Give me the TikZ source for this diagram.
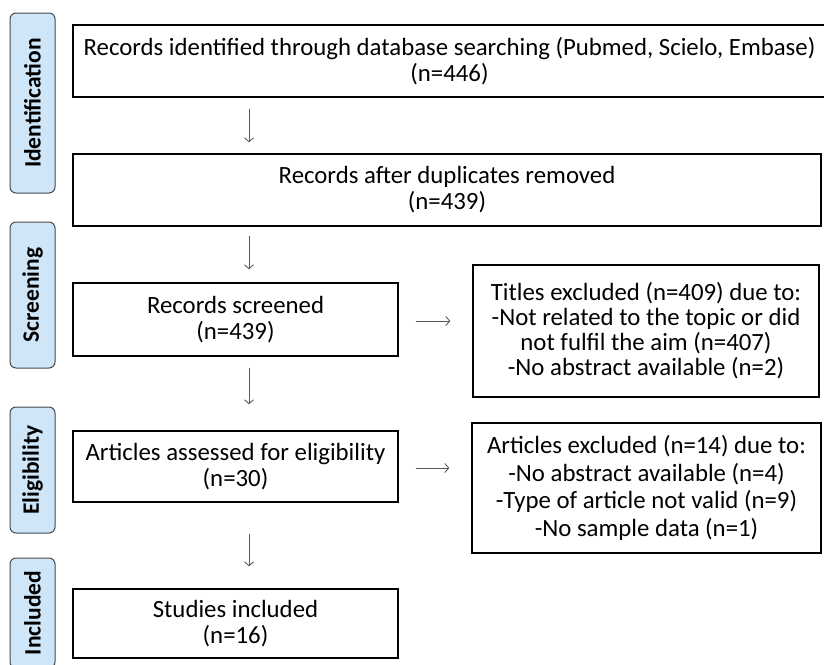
\documentclass[tikz,border=0pt]{standalone}
\usepackage{fontspec}
\setmainfont{Carlito}
\usetikzlibrary{arrows.meta}
\definecolor{stagefill}{HTML}{CFE6F8}
\definecolor{stageline}{HTML}{45494D}
\tikzset{
  box/.style={draw=black, line width=1.3pt, align=center, inner sep=0pt,
    font=\fontsize{24.8}{26}\selectfont},
  stage/.style={draw=stageline, fill=stagefill, rounded corners=6pt, line width=1pt,
    rotate=90, minimum height=45pt, inner sep=0pt, font=\fontsize{23.5}{26}\selectfont\bfseries},
  arr/.style={-{Straight Barb[length=4pt,width=9pt]}, draw=black!65, line width=0.9pt}
}
\begin{document}
\begin{tikzpicture}[x=1pt,y=-1pt]
  \useasboundingbox (0,0) rectangle (824,664);

  % Fases
  \node[stage, minimum width=180pt] (iden) at (32.5,103) {Identification};
  \node[stage, minimum width=146pt] (scre) at (32.5,295) {Screening};
  \node[stage, minimum width=126pt] (elig) at (32.5,470) {Eligibility};
  \node[stage, minimum width=110pt] (incl) at (32.5,613) {Included};

  % Cajas principales
  \node[box, minimum width=753pt, minimum height=72pt] (recid) at (449.5,61)
    {Records identified through database searching (Pubmed, Scielo, Embase)\\(n=446)};
  \node[box, minimum width=748pt, minimum height=72pt] (recdup) at (447,190)
    {Records after duplicates removed\\(n=439)};
  \node[box, minimum width=325pt, minimum height=73pt] (recscr) at (235.5,319.5)
    {Records screened\\(n=439)};
  \node[box, minimum width=325pt, minimum height=71pt] (artel) at (235.5,466.5)
    {Articles assessed for eligibility\\(n=30)};
  \node[box, minimum width=325pt, minimum height=69pt] (stinc) at (235.5,623.5)
    {Studies included\\(n=16)};

  % Cajas de exclusion
  \node[box, minimum width=346pt, minimum height=132pt, font=\fontsize{24.8}{25}\selectfont] (titex) at (646,331)
    {Titles excluded (n=409) due to:\\-Not related to the topic or did\\not fulfil the aim (n=407)\\-No abstract available (n=2)};
  \node[box, minimum width=349pt, minimum height=130pt, font=\fontsize{24.8}{27.5}\selectfont] (artex) at (646.5,488)
    {Articles excluded (n=14) due to:\\-No abstract available (n=4)\\-Type of article not valid (n=9)\\-No sample data (n=1)};

  % Flechas
  \coordinate (col) at (249,0);
  \draw[arr, shorten <=11pt, shorten >=11pt] (recid.south -| col) -- (recdup.north -| col);
  \draw[arr, shorten <=9pt, shorten >=13pt] (recdup.south -| col) -- (recscr.north -| col);
  \draw[arr, shorten <=11pt, shorten >=26pt] (recscr.south -| col) -- (artel.north -| col);
  \draw[arr, shorten <=31pt, shorten >=22pt] (artel.south -| col) -- (stinc.north -| col);
  \draw[arr, shorten <=17pt, shorten >=22pt] ([yshift=-1.5pt]recscr.east) -- ([yshift=-1.5pt]recscr.east -| titex.west);
  \draw[arr, shorten <=17pt, shorten >=22pt] ([yshift=-1.5pt]artel.east) -- ([yshift=-1.5pt]artel.east -| artex.west);
\end{tikzpicture}
\end{document}
